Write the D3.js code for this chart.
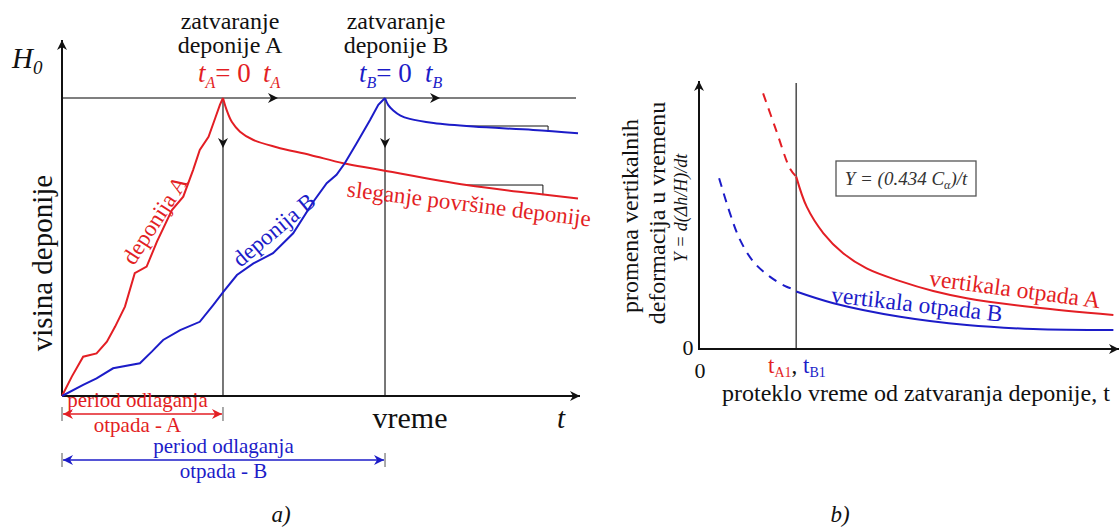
<!DOCTYPE html>
<html><head><meta charset="utf-8">
<script src="https://cdn.jsdelivr.net/npm/d3@7/dist/d3.min.js"></script>
<style>
html,body{margin:0;padding:0;background:#fff;}
svg{display:block;}
text{font-family:"Liberation Serif","Tinos","Times New Roman","DejaVu Serif",serif;}
</style></head><body>
<svg id="c" width="1120" height="528"></svg>
<script>
// ---------- DATA (panel a: time 0..100, height 0..100 = H0) ----------
const closeTimes = [31.2, 62.6];            // closure of landfill A, B
const riseA = [[0,0],[1.9,6.5],[4.1,13.2],[6.7,14.3],[8.7,18.2],[10.3,23.3],[12.2,30.0],[14.1,41.2],[16.4,43.4],[18.4,51.8],[21.3,62.4],[23.5,66.9],[25.4,75.8],[26.7,82.6],[28.4,87.0],[29.7,93.3],[30.6,97.7],[31.2,100]];
const settleA = [[31.2,100],[31.9,96.0],[32.9,92.0],[34.5,88.7],[37.1,85.9],[41.6,83.5],[48.1,80.9],[54.5,78.1],[61.0,76.1],[78.4,70.8],[91.3,68.0],[100,66.3]];
const riseB = [[0,0],[4.1,3.7],[6.7,5.9],[9.9,9.3],[15.1,11.0],[17.4,14.9],[19.6,18.8],[22.9,22.1],[26.7,24.9],[29.3,30.5],[31.3,35.0],[33.9,40.6],[37.1,44.5],[40.9,47.9],[44.8,54.6],[48.7,65.2],[51.3,71.4],[53.2,74.2],[54.8,78.1],[57.1,84.8],[59.7,92.6],[61.3,97.7],[62.6,100]];
const settleB = [[62.6,100],[63.2,97.7],[64.2,95.8],[65.6,94.1],[67.4,93.0],[72.0,91.6],[79.7,90.4],[91.3,89.3],[100,88.2]];
const slopeMarkA = [78.5, 93.2, 70.8, 67.4];   // t0, t1, h0, h1
const slopeMarkB = [78.5, 94.2, 90.6, 88.6];
// ---------- DATA (panel b: elapsed time 0..100, rate 0..100) ----------
const t1 = 23.2;                                // tA1 = tB1
const rateA_dash = [[15.3,96.1],[18.4,82.3],[21.7,67.9],[23.2,64.8]];
const rateA = [[23.2,64.8],[25.7,53.5],[29.7,43.5],[34.4,36.0],[40.0,30.3],[48.0,25.5],[55.9,21.8],[63.9,19.1],[79.8,15.7],[98.9,12.8]];
const rateB_dash = [[4.8,64.2],[7.4,51.0],[9.8,41.0],[13.0,32.8],[16.9,27.2],[20.9,23.4],[23.2,22.2]];
const rateB = [[23.2,21.6],[32.1,17.2],[48.0,12.1],[63.9,9.0],[79.8,7.5],[98.9,7.1]];

// ---------- STYLE ----------
const RED = "#e31e24", BLUE = "#1c1cc8", GRAY = "#555", BLACK = "#111";
const FONT = "'Liberation Serif', Tinos, 'Times New Roman', 'DejaVu Serif', serif";

const svg = d3.select("#c").attr("font-family", FONT);
const defs = svg.append("defs");
function marker(id, color){
  defs.append("marker").attr("id", id).attr("viewBox","-11 -6 12 12")
    .attr("refX",0).attr("refY",0).attr("markerWidth",12).attr("markerHeight",12)
    .attr("markerUnits","userSpaceOnUse").attr("orient","auto-start-reverse")
    .append("path").attr("d","M-10,-5 L0,0 L-10,5 L-7,0 Z").attr("fill", color);
}
marker("mk", BLACK); marker("mr", RED); marker("mb", BLUE);

function chevron(g, x, y, angle){
  g.append("path").attr("d","M-10,-5 L0,0 L-10,5 L-7,0 Z").attr("fill",BLACK)
    .attr("transform",`translate(${x},${y}) rotate(${angle})`);
}

// ================= PANEL a =================
const xL = d3.scaleLinear().domain([0,100]).range([62,578]);
const yL = d3.scaleLinear().domain([0,100]).range([396,98]);
const gA = svg.append("g");

gA.append("line").attr("x1",xL(0)).attr("x2",576).attr("y1",yL(100)).attr("y2",yL(100))
  .attr("stroke",GRAY).attr("stroke-width",1.6);
closeTimes.forEach(t=>{
  gA.append("line").attr("x1",xL(t)).attr("x2",xL(t)).attr("y1",yL(100)).attr("y2",yL(0))
    .attr("stroke",GRAY).attr("stroke-width",1.6);
  chevron(gA, xL(t), 148, 90);
  chevron(gA, xL(t)+55, yL(100), 0);
});
gA.append("line").attr("x1",xL(0)).attr("x2",xL(0)).attr("y1",yL(0)).attr("y2",40)
  .attr("stroke",BLACK).attr("stroke-width",2).attr("marker-end","url(#mk)");
gA.append("line").attr("x1",xL(0)).attr("x2",xL(100)+2).attr("y1",yL(0)).attr("y2",yL(0))
  .attr("stroke",BLACK).attr("stroke-width",2).attr("marker-end","url(#mk)");

const lineL = d3.line().x(d=>xL(d[0])).y(d=>yL(d[1]));
const smoothL = d3.line().x(d=>xL(d[0])).y(d=>yL(d[1])).curve(d3.curveCatmullRom.alpha(0.5));

[slopeMarkA, slopeMarkB].forEach(m=>{
  gA.append("path").attr("d",`M${xL(m[0])},${yL(m[2])}H${xL(m[1])}V${yL(m[3])}`)
    .attr("fill","none").attr("stroke",BLACK).attr("stroke-width",1);
});

gA.append("path").attr("d",lineL(riseA)).attr("fill","none").attr("stroke",RED).attr("stroke-width",2);
gA.append("path").attr("d",smoothL(settleA)).attr("fill","none").attr("stroke",RED).attr("stroke-width",2);
gA.append("path").attr("d",lineL(riseB)).attr("fill","none").attr("stroke",BLUE).attr("stroke-width",2);
gA.append("path").attr("d",smoothL(settleB)).attr("fill","none").attr("stroke",BLUE).attr("stroke-width",2);

function txt(g, x, y, s, opt={}){
  const t = g.append("text").attr("x",x).attr("y",y).text(s)
    .attr("font-family",FONT)
    .attr("font-size",opt.size||22).attr("fill",opt.color||BLACK)
    .attr("text-anchor",opt.anchor||"middle");
  if(opt.italic) t.attr("font-style","italic");
  if(opt.rot!==undefined) t.attr("transform",`rotate(${opt.rot},${x},${y})`);
  if(opt.mid) t.attr("dominant-baseline","central");
  return t;
}
const h0 = gA.append("text").attr("x",12).attr("y",68).attr("font-size",29).attr("font-style","italic").attr("fill",BLACK).attr("font-family",FONT);
h0.append("tspan").text("H");
h0.append("tspan").attr("dy",6).attr("font-size",19).text("0");

txt(gA, 230, 29, "zatvaranje", {size:24});
txt(gA, 230, 53, "deponije A", {size:24});
txt(gA, 396, 29, "zatvaranje", {size:24});
txt(gA, 396, 53, "deponije B", {size:24});

function tLabel(g, x, y, sub, color, eq){
  const t = g.append("text").attr("x",x).attr("y",y).attr("font-size",27).attr("fill",color).attr("font-family",FONT);
  t.append("tspan").attr("font-style","italic").text("t");
  t.append("tspan").attr("font-style","italic").attr("font-size",16).attr("dy",6).text(sub);
  if(eq) t.append("tspan").attr("dy",-6).text("= 0");
}
tLabel(gA, 198, 82, "A", RED, true);
tLabel(gA, 263, 82, "A", RED, false);
tLabel(gA, 359, 82, "B", BLUE, true);
tLabel(gA, 425, 82, "B", BLUE, false);

txt(gA, 42, 263, "visina deponije", {size:29, rot:-90, mid:true});
txt(gA, 155, 220, "deponija A", {size:23, color:RED, rot:-57, mid:true});
txt(gA, 274, 230, "deponija B", {size:23, color:BLUE, rot:-40, mid:true});
txt(gA, 469, 204, "sleganje površine deponije", {size:23, color:RED, rot:7, mid:true});
txt(gA, 410, 428, "vreme", {size:30});
txt(gA, 561, 428, "t", {size:29, italic:true});

const periods = [{t:closeTimes[0], y:414, c:RED, m:"mr", ty:[407,432], lab:"otpada - A"},
                 {t:closeTimes[1], y:460, c:BLUE, m:"mb", ty:[453,478], lab:"otpada - B"}];
periods.forEach(p=>{
  gA.append("line").attr("x1",xL(0)+1).attr("x2",xL(p.t)-1).attr("y1",p.y).attr("y2",p.y)
    .attr("stroke",p.c).attr("stroke-width",1.3)
    .attr("marker-start",`url(#${p.m})`).attr("marker-end",`url(#${p.m})`);
  [0,p.t].forEach(t=>gA.append("line").attr("x1",xL(t)).attr("x2",xL(t)).attr("y1",p.y-7).attr("y2",p.y+7)
    .attr("stroke",GRAY).attr("stroke-width",1));
  const cx = (xL(0)+xL(p.t))/2 + (p.c===RED? -5 : 0);
  txt(gA, cx, p.ty[0], "period odlaganja", {size:21, color:p.c});
  txt(gA, cx, p.ty[1], p.lab, {size:21, color:p.c});
});
txt(gA, 281, 522, "a)", {size:23, italic:true});

// ================= PANEL b =================
const xR = d3.scaleLinear().domain([0,100]).range([699,1118]);
const yR = d3.scaleLinear().domain([0,100]).range([349,83]);
const gB = svg.append("g");

gB.append("line").attr("x1",xR(t1)).attr("x2",xR(t1)).attr("y1",yR(0)).attr("y2",yR(100))
  .attr("stroke",GRAY).attr("stroke-width",1.6);
gB.append("line").attr("x1",xR(0)).attr("x2",xR(0)).attr("y1",yR(0)+1).attr("y2",81)
  .attr("stroke",BLACK).attr("stroke-width",2).attr("marker-end","url(#mk)");
gB.append("line").attr("x1",xR(0)-1).attr("x2",1119).attr("y1",yR(0)).attr("y2",yR(0))
  .attr("stroke",BLACK).attr("stroke-width",2).attr("marker-end","url(#mk)");

const lineR = d3.line().x(d=>xR(d[0])).y(d=>yR(d[1])).curve(d3.curveCatmullRom.alpha(0.5));
gB.append("path").attr("d",lineR(rateA_dash)).attr("fill","none").attr("stroke",RED).attr("stroke-width",2).attr("stroke-dasharray","9,7");
gB.append("path").attr("d",lineR(rateB_dash)).attr("fill","none").attr("stroke",BLUE).attr("stroke-width",2).attr("stroke-dasharray","9,7");
gB.append("path").attr("d",lineR(rateA)).attr("fill","none").attr("stroke",RED).attr("stroke-width",2);
gB.append("path").attr("d",lineR(rateB)).attr("fill","none").attr("stroke",BLUE).attr("stroke-width",2);

gB.append("rect").attr("x",836).attr("y",161).attr("width",140).attr("height",35)
  .attr("fill","#fff").attr("stroke",GRAY).attr("stroke-width",1.3);
const f = gB.append("text").attr("x",906).attr("y",185).attr("text-anchor","middle").attr("font-family",FONT)
  .attr("font-size",19).attr("font-style","italic").attr("fill","#333");
f.append("tspan").text("Y = (0.434 C");
f.append("tspan").attr("font-size",12).attr("dy",4).text("α");
f.append("tspan").attr("dy",-4).text(")/t");

txt(gB, 1015, 289, "vertikala otpada A", {size:23.5, color:RED, rot:7.5, mid:true});
txt(gB, 917, 304, "vertikala otpada B", {size:23.5, color:BLUE, rot:6.5, mid:true});

txt(gB, 630, 216, "promena vertikalnih", {size:24, rot:-90, mid:true});
txt(gB, 657, 213, "deformacija u vremenu", {size:24, rot:-90, mid:true});
txt(gB, 681, 208, "Y = d(Δh/H)/dt", {size:18, rot:-90, mid:true, italic:true});

txt(gB, 688, 355, "0", {size:22});
txt(gB, 700, 378, "0", {size:22});
const tl = gB.append("text").attr("x",768).attr("y",373).attr("font-size",23).attr("font-family",FONT);
tl.append("tspan").attr("fill",RED).text("t");
tl.append("tspan").attr("fill",RED).attr("font-size",14).attr("dy",4).text("A1");
tl.append("tspan").attr("fill",BLACK).attr("dy",-4).text(", ");
tl.append("tspan").attr("fill",BLUE).text("t");
tl.append("tspan").attr("fill",BLUE).attr("font-size",14).attr("dy",4).text("B1");
txt(gB, 722, 401, "proteklo vreme od zatvaranja deponije, t", {size:24, anchor:"start"});
txt(gB, 840, 522, "b)", {size:23, italic:true});
</script>
</body></html>
